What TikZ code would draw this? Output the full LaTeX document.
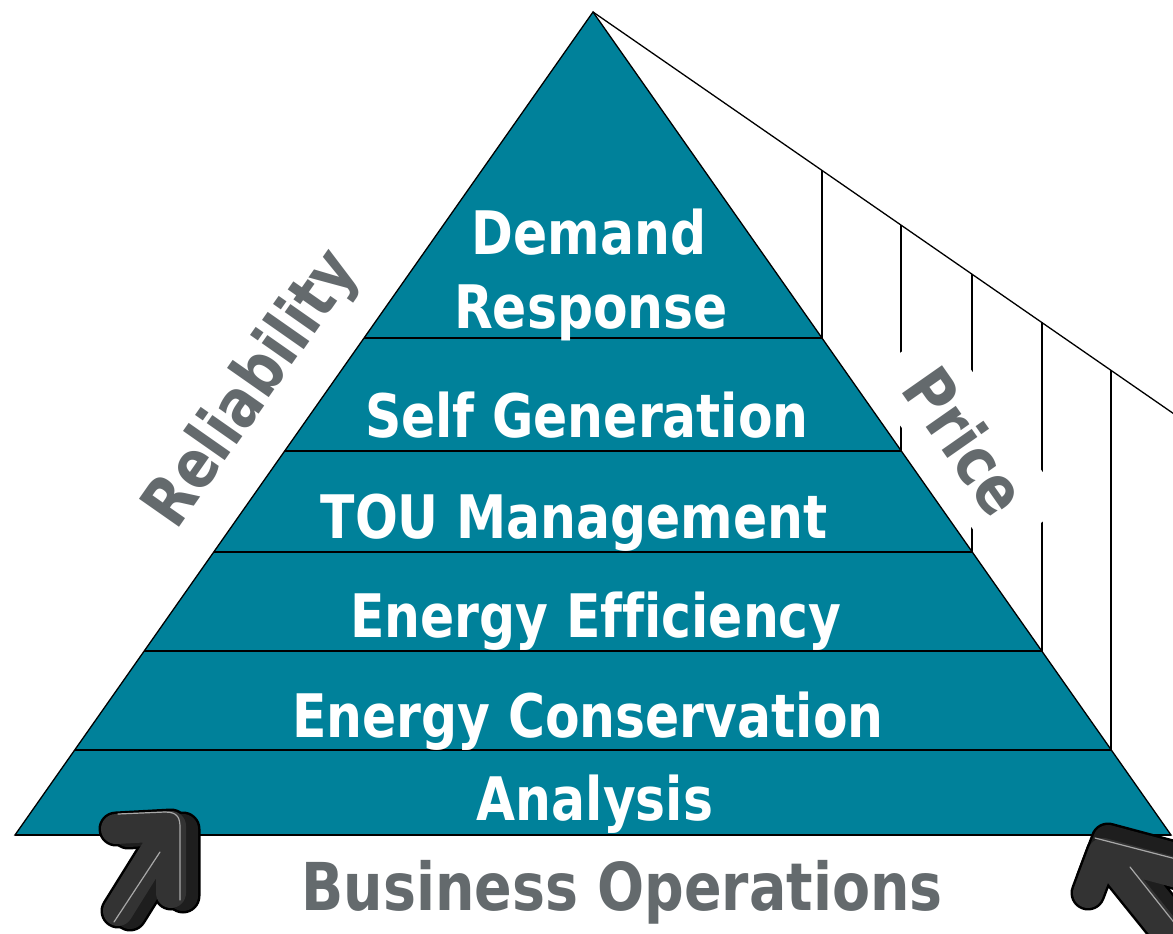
\documentclass[tikz,border=0pt]{standalone}
\usepackage{fontspec}
\setmainfont{DejaVu Sans}[FakeStretch=0.84, Ligatures=NoCommon]
\definecolor{pyrteal}{HTML}{00819A}
\definecolor{labgray}{HTML}{646A6D}
\definecolor{armface}{HTML}{333333}
\definecolor{armside}{HTML}{1E1E1E}
\definecolor{armhigh}{HTML}{A8A8A8}
\tikzset{
  lvl/.style={text=white, font=\fontsize{60}{66}\selectfont\bfseries, anchor=base, inner sep=0pt},
  sidelabel/.style={text=labgray, font=\fontsize{67}{72}\selectfont\bfseries, fill=white, inner sep=4pt},
  thinline/.style={draw=black, line width=1.3pt},
  bandline/.style={draw=black, line width=2pt},
  armout/.style={draw=black, line width=35pt, line cap=round, line join=round},
  armsidestroke/.style={draw=armside, line width=30pt, line cap=round, line join=round},
  armfacestroke/.style={draw=armface, line width=30pt, line cap=round, line join=round},
  armhl/.style={draw=armhigh, line width=1.2pt, line cap=round},
}
\begin{document}
\begin{tikzpicture}[x=1pt,y=-1pt]
\useasboundingbox (0,0) rectangle (1173,934);
\fill[white] (0,0) rectangle (1173,934);
\begin{scope}
\clip (0,0) rectangle (1173,934);
% key points
\coordinate (apex) at (593,12);
\coordinate (bl) at (15,835);
\coordinate (br) at (1171,835);
\coordinate (far) at (1190,425);
\coordinate (l1) at (364,338);  \coordinate (r1) at (822,338);  \coordinate (t1) at (822,170);
\coordinate (l2) at (285,451);  \coordinate (r2) at (901,451);  \coordinate (t2) at (901,225);
\coordinate (l3) at (214,552);  \coordinate (r3) at (972,552);  \coordinate (t3) at (972,274);
\coordinate (l4) at (144,651);  \coordinate (r4) at (1042,651); \coordinate (t4) at (1042,322);
\coordinate (l5) at (75,750);   \coordinate (r5) at (1111,750); \coordinate (t5) at (1111,370);
% price slope
\draw[thinline] (apex) -- (far);
\foreach \i in {1,...,5} \draw[thinline] (r\i) -- (t\i);
% side labels
\node[sidelabel, rotate=-55, minimum width=220pt, minimum height=90pt] (price) at (966,441) {Price};
\node[sidelabel, rotate=55] (rel) at (253,390) {Reliability};
% pyramid
\filldraw[fill=pyrteal, draw=black, line width=1.3pt] (apex) -- (br) -- (bl) -- cycle;
\foreach \i in {1,...,5} \draw[bandline] (l\i) -- (r\i);
\draw[bandline] (bl) -- (br);
% level texts
\node[lvl] (dem) at (589,254) {Demand};
\node[lvl] (resp) at (591,328) {Response};
\node[lvl] (selfgen) at (587,437) {Self Generation};
\node[lvl] (tou) at (574,538) {TOU Management};
\node[lvl] (eff) at (596,637) {Energy Efficiency};
\node[lvl] (cons) at (588,737) {Energy Conservation};
\node[lvl] (ana) at (595,820) {Analysis};
\node[lvl, text=labgray, font=\fontsize{66}{70}\selectfont\bfseries] (bizops) at (622,910) {Business Operations};
% left block arrow
\draw[armout] (128,832) -- (183,829) -- (183,896) (183,829) -- (130,914);
\draw[armout] (116,829) -- (171,826) -- (171,893) (171,826) -- (118,911);
\draw[armsidestroke] (128,832) -- (183,829) -- (183,896) (183,829) -- (130,914);
\draw[armfacestroke] (116,829) -- (171,826) -- (171,893) (171,826) -- (118,911);
\draw[armhl] (118,814) -- (165,812) .. controls (178,812) and (180,818) .. (180,828) -- (180,900);
\draw[armhl] (160,852) -- (114,922);
% right block arrow
\draw[armout] (1108,840) -- (1205,866) (1108,840) -- (1093,880) (1108,840) -- (1190,942);
\draw[armout] (1103,853) -- (1200,879) (1103,853) -- (1088,893) (1103,853) -- (1186,956);
\draw[armsidestroke] (1108,840) -- (1205,866) (1108,840) -- (1093,880) (1108,840) -- (1190,942);
\draw[armfacestroke] (1103,853) -- (1200,879) (1103,853) -- (1088,893) (1103,853) -- (1186,956);
\draw[armhl] (1095,838) -- (1180,860);
\draw[armhl] (1130,867) -- (1180,930);
\end{scope}
\end{tikzpicture}
\end{document}
